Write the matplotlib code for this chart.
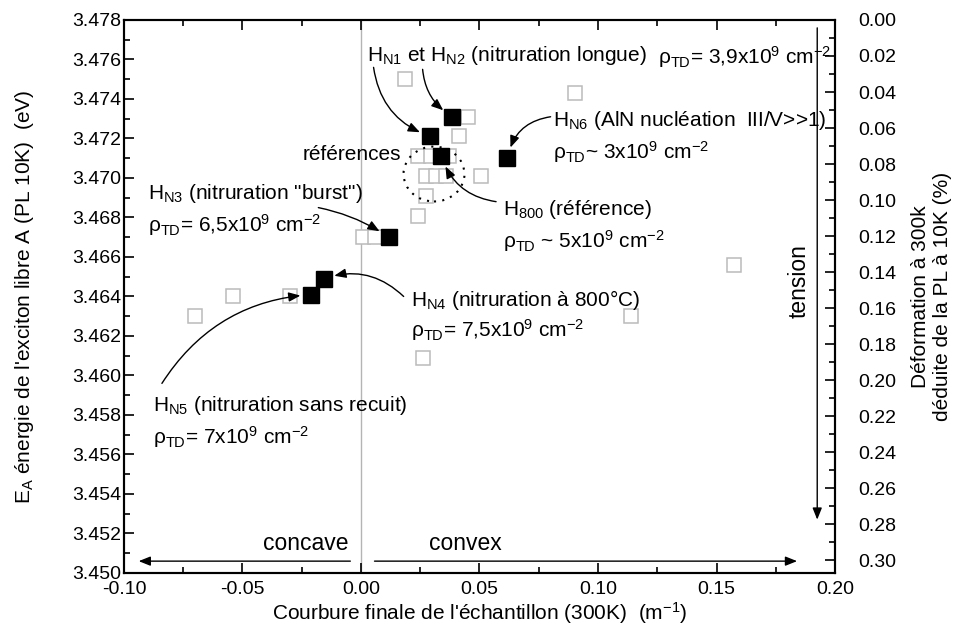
import matplotlib
matplotlib.use("Agg")
import matplotlib.pyplot as plt
from matplotlib.patches import Ellipse
from matplotlib.ticker import MultipleLocator, FormatStrFormatter

plt.rcParams['font.family'] = ['Liberation Sans', 'DejaVu Sans']
plt.rcParams['mathtext.fontset'] = 'custom'
plt.rcParams['mathtext.rm'] = 'Liberation Sans'
plt.rcParams['mathtext.default'] = 'regular'

# echantillons de reference (carres vides)
ref_x = [0.0185, 0.0452, 0.0412, 0.0240, 0.0295, 0.0372, 0.0275, 0.0318, 0.0358,
         0.0505, 0.0275, 0.0240, 0.0010, 0.0058, -0.0300, -0.0540, -0.0700,
         0.0260, 0.1140, 0.1575, 0.0905]
ref_y = [3.4750, 3.4731, 3.4721, 3.4711, 3.4711, 3.4711, 3.4701, 3.4701, 3.4701,
         3.4701, 3.4691, 3.4681, 3.4670, 3.4670, 3.4640, 3.4640, 3.4630,
         3.4609, 3.4630, 3.4656, 3.4743]

# echantillons nitrures (carres pleins)
noms = ['N2', 'N1', '800', 'N6', 'N3', 'N4', 'N5']
nit_x = [0.0385, 0.0292, 0.0338, 0.0618, 0.0118, -0.0158, -0.0209]
nit_y = [3.4731, 3.4721, 3.4711, 3.4710, 3.4670, 3.4649, 3.4641]

fig = plt.figure(figsize=(9.59, 6.28), dpi=100)
ax = fig.add_axes([0.1293, 0.0876, 0.7414, 0.8806])

ax.axvline(0, color='#b4b4b4', lw=1, zorder=1)
ax.plot(ref_x, ref_y, 's', ms=9.5, mfc='white', mec='#bbbbbb', mew=1.1, ls='none', zorder=2)
ax.plot(nit_x, nit_y, 's', ms=12, mfc='black', mec='black', ls='none', zorder=4)

ax.set_xlim(-0.10, 0.20)
ax.set_ylim(3.450, 3.478)
ax.xaxis.set_major_locator(MultipleLocator(0.05))
ax.xaxis.set_minor_locator(MultipleLocator(0.025))
ax.yaxis.set_major_locator(MultipleLocator(0.002))
ax.yaxis.set_minor_locator(MultipleLocator(0.001))
ax.xaxis.set_major_formatter(FormatStrFormatter('%.2f'))
ax.yaxis.set_major_formatter(FormatStrFormatter('%.3f'))
ax.tick_params(which='both', direction='in', top=True, right=False, labelsize=14, width=1.2)
ax.tick_params(which='major', length=7)
ax.tick_params(which='minor', length=4)
ax.tick_params(axis='x', pad=5.5)
ax.tick_params(axis='y', pad=2)
for s in ax.spines.values():
    s.set_linewidth(1.5)

ax.set_xlabel("Courbure finale de l'échantillon (300K)  (m$^{-1}$)", fontsize=15, labelpad=2)
ax.set_ylabel("E$_A$ énergie de l'exciton libre A (PL 10K)  (eV)", fontsize=15, labelpad=26)

ax2 = ax.twinx()
ax2.set_ylim(0.307, 0)
ax2.yaxis.set_major_locator(MultipleLocator(0.02))
ax2.yaxis.set_minor_locator(MultipleLocator(0.01))
ax2.yaxis.set_major_formatter(FormatStrFormatter('%.2f'))
ax2.tick_params(which='both', direction='in', labelsize=14, width=1.2, pad=17)
ax2.tick_params(which='major', length=7)
ax2.tick_params(which='minor', length=4)
ax2.set_ylabel("Déformation à 300k\ndéduite de la PL à 10K (%)", fontsize=15, labelpad=10)
for s in ax2.spines.values():
    s.set_linewidth(1.5)

fs = 15
fleche = dict(arrowstyle='-|>,head_length=0.5,head_width=0.2', color='black', lw=1,
              mutation_scale=14, shrinkA=0)

def pt(nom):
    i = noms.index(nom)
    return (nit_x[i], nit_y[i])

# textes
ax.text(0.0027, 3.4762, "H$_{N1}$ et H$_{N2}$ (nitruration longue)", fontsize=fs, va='center')
ax.text(0.1985, 3.4761, "ρ$_{TD}$= 3,9x10$^9$ cm$^{-2}$", fontsize=fs, va='center', ha='right')
ax.text(0.0812, 3.4729, "H$_{N6}$ (AlN nucléation  III/V>>1)", fontsize=fs, va='center')
ax.text(0.0812, 3.4713, "ρ$_{TD}$~ 3x10$^9$ cm$^{-2}$", fontsize=fs, va='center')
ax.text(0.0171, 3.4712, "références", fontsize=fs, va='center', ha='right')
ax.text(-0.0897, 3.4692, 'H$_{N3}$ (nitruration "burst")', fontsize=fs, va='center')
ax.text(-0.0897, 3.4676, "ρ$_{TD}$= 6,5x10$^9$ cm$^{-2}$", fontsize=fs, va='center')
ax.text(0.0601, 3.4684, "H$_{800}$ (référence)", fontsize=fs, va='center')
ax.text(0.0601, 3.4668, "ρ$_{TD}$ ~ 5x10$^9$ cm$^{-2}$", fontsize=fs, va='center')
ax.text(0.0209, 3.4638, "H$_{N4}$ (nitruration à 800°C)", fontsize=fs, va='center')
ax.text(0.0209, 3.4623, "ρ$_{TD}$= 7,5x10$^9$ cm$^{-2}$", fontsize=fs, va='center')
ax.text(-0.0876, 3.4585, "H$_{N5}$ (nitruration sans recuit)", fontsize=fs, va='center')
ax.text(-0.0876, 3.4569, "ρ$_{TD}$= 7x10$^9$ cm$^{-2}$", fontsize=fs, va='center')
ax.text(-0.0053, 3.4515, "concave", fontsize=16.5, va='center', ha='right')
ax.text(0.0285, 3.4515, "convex", fontsize=16.5, va='center')
ax.text(0.1850, 3.4648, "tension", fontsize=16.5, va='center', ha='center', rotation=90)

# fleches
ax.annotate('', xy=pt('N1'), xytext=(0.0053, 3.4756),
            arrowprops=dict(fleche, connectionstyle='arc3,rad=0.3', shrinkB=8))
ax.annotate('', xy=pt('N2'), xytext=(0.0260, 3.4755),
            arrowprops=dict(fleche, connectionstyle='arc3,rad=0.25', shrinkB=8))
ax.annotate('', xy=pt('N6'), xytext=(0.0800, 3.4731),
            arrowprops=dict(fleche, connectionstyle='arc3,rad=0.35', shrinkB=8))
ax.annotate('', xy=pt('800'), xytext=(0.0570, 3.4688),
            arrowprops=dict(fleche, connectionstyle='arc3,rad=-0.3', shrinkB=8))
ax.annotate('', xy=pt('N3'), xytext=(-0.0180, 3.4685),
            arrowprops=dict(fleche, connectionstyle='arc3,rad=-0.1', shrinkB=8))
ax.annotate('', xy=pt('N4'), xytext=(0.0180, 3.4640),
            arrowprops=dict(fleche, connectionstyle='arc3,rad=0.3', shrinkB=8))
ax.annotate('', xy=pt('N5'), xytext=(-0.0840, 3.4596),
            arrowprops=dict(fleche, connectionstyle='arc3,rad=-0.25', shrinkB=8))

ax.annotate('', xy=(-0.0938, 3.4506), xytext=(-0.0045, 3.4506),
            arrowprops=dict(fleche, shrinkB=0))
ax.annotate('', xy=(0.1840, 3.4506), xytext=(0.0057, 3.4506),
            arrowprops=dict(fleche, shrinkB=0))
ax.annotate('', xy=(0.1925, 3.4527), xytext=(0.1925, 3.4776),
            arrowprops=dict(fleche, shrinkB=0))

ax.add_patch(Ellipse((0.0308, 3.4702), 0.0257, 0.00278, fill=False, ls=(0, (1, 3)),
                     lw=1.5, color='black', zorder=3))

fig.savefig('out.png', dpi=100)
